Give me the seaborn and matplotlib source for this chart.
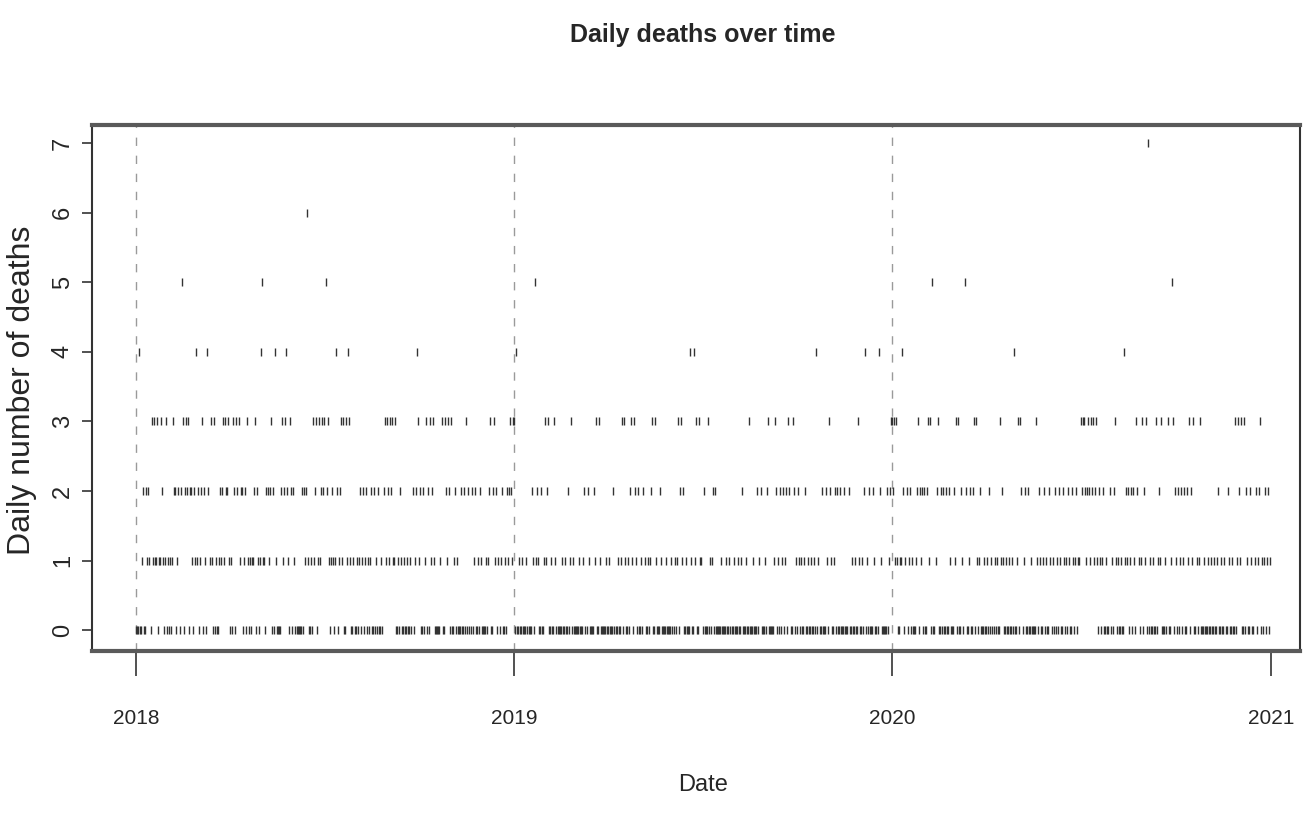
import matplotlib
matplotlib.use('Agg')
import matplotlib.pyplot as plt
import numpy as np
import pandas as pd
import seaborn as sns

# day offsets from 2018-01-01, grouped by the number of deaths
start = pd.Timestamp('2018-01-01')
n_days = 1096

level1_days = [
    6, 11, 13, 16, 18, 19, 22, 23, 26, 28, 31, 33, 35, 40, 54, 57, 59, 62, 67, 69, 71, 73, 77, 80, 82, 85,
    90, 92, 100, 104, 108, 110, 112, 113, 118, 120, 123, 124, 128, 135, 142, 147, 153, 163, 166, 169, 172, 176,
    178, 186, 188, 190, 192, 196, 199, 204, 207, 210, 213, 215, 218, 221, 224, 226, 232, 237, 241, 244, 248,
    249, 253, 256, 259, 262, 265, 269, 273, 279, 285, 288, 294, 300, 307, 310, 326, 330, 333, 338, 340, 347,
    350, 352, 356, 359, 363,
    370, 373, 377, 383, 386, 388, 394, 396, 401, 405, 411, 414, 419, 422, 428, 432, 437, 443, 448, 454, 457,
    465, 468, 472, 475, 479, 483, 488, 491, 494, 496, 502, 507, 512, 517, 520, 522, 527, 531, 536, 540, 545,
    546, 554, 556, 565, 570, 573, 577, 581, 584, 589, 596, 602, 607, 616, 620, 624, 627, 637, 640, 642, 645,
    649, 652, 655, 659, 667, 671, 674, 691, 694, 698, 701, 706, 713, 719, 727,
    733, 735, 738, 739, 743, 746, 749, 753, 758, 766, 772, 786, 791, 798, 804, 812, 814, 819, 822, 826, 829,
    831, 835, 837, 840, 843, 846, 851, 857, 864, 870, 873, 876, 879, 883, 885, 889, 892, 896, 898, 901, 905,
    907, 910,
    911, 917, 921, 925, 928, 931, 933, 937, 942, 946, 948, 951, 955, 957, 960, 964, 968, 970, 974, 979, 982,
    987, 989, 994, 999, 1004, 1008, 1011, 1016, 1020, 1024, 1026, 1031, 1035, 1038, 1041, 1044, 1048, 1051,
    1055, 1058, 1063, 1066, 1073, 1077, 1080, 1083, 1087, 1089, 1092, 1095,
]
level2_days = [
    7, 10, 12, 25, 37, 38, 41, 43, 44, 47, 49, 52, 53, 56, 58, 60, 63, 66, 70, 81, 83, 87, 88, 95, 98, 101,
    102, 105, 114, 117, 126, 127, 129, 132, 140, 143, 146, 150, 152, 160, 162, 164, 173, 179,
    181, 184, 189, 194, 197, 216, 219, 222, 227, 230, 234, 239, 243, 246, 255, 267, 270, 274, 277, 282, 286,
    299, 302, 308, 314, 317, 321, 324, 327, 332, 341, 345, 348, 353, 358, 362,
    360, 382, 387, 391, 397, 417, 433, 436, 442, 461, 477, 482, 485, 490, 497, 506, 525, 528,
    548, 557, 559, 585, 600, 603, 609, 618, 622, 625, 628, 631, 635, 639, 646, 662, 666, 670, 675, 677, 680,
    684, 688, 703, 708, 712, 718, 725, 728,
    731, 741, 744, 747, 754, 757, 759, 761, 764, 773, 777, 779, 782, 785, 790, 797, 801, 805, 808, 815, 824,
    836, 855, 858, 861, 872, 877, 882, 887, 891, 895, 900, 904, 908, 913,
    916, 918, 920, 923, 926, 930, 934, 940, 944, 956, 958, 961, 963, 967, 973, 988, 1003, 1006, 1009, 1012,
    1015, 1019, 1045, 1054, 1065, 1072, 1076, 1081, 1084, 1090, 1093,
]
level3_days = [
    15, 17, 20, 24, 29, 36, 45, 48, 50, 64, 72, 75, 84, 86, 89, 94, 97, 99, 107, 115, 130, 141, 144, 149,
    171, 174, 177, 180,
    182, 185, 198, 200, 203, 206, 240, 242, 245, 247, 250, 272, 280, 284, 287, 295, 298, 301, 304, 319, 342,
    346, 361,
    364, 365, 395, 398, 404, 420, 444, 447, 469, 471, 478, 481, 498, 501, 523, 526, 541,
    544, 552, 592, 610, 617, 630, 634, 669, 697, 729,
    730, 732, 734, 755, 765, 767, 774, 792, 794, 809, 811, 834, 852, 854, 869, 912,
    914, 915, 919, 922, 924, 927, 945, 966, 971, 975, 985, 990, 996, 1001, 1017, 1021, 1027, 1061, 1064,
    1067, 1070, 1085,
]
level4_days = [3, 58, 69, 121, 134, 145, 193, 205, 271, 367, 535, 539, 657, 704, 717, 740, 848, 954]
level5_days = [44, 122, 183, 385, 769, 800, 1000]
level6_days = [165]
level7_days = [977]

years = [2018, 2019, 2020, 2021]
dashed_years = [2018, 2019, 2020]

deaths = np.zeros(n_days, dtype=int)
for level, days in [(1, level1_days), (2, level2_days), (3, level3_days), (4, level4_days),
                    (5, level5_days), (6, level6_days), (7, level7_days)]:
    deaths[days] = level

df = pd.DataFrame({
    'Date': start + pd.to_timedelta(np.arange(n_days), unit='D'),
    'Deaths': deaths,
})

sns.set_style('white')
plain = ['Liberation Sans', 'DejaVu Sans']
plt.rcParams['font.family'] = plain

fig = plt.figure(figsize=(13.16, 8.25), dpi=100)
ax = fig.add_axes([0.0699, 0.2109, 0.918, 0.6376])

for y in dashed_years:
    ax.axvline(pd.Timestamp(f'{y}-01-01'), color='#9a9a9a', lw=1.0, ls=(0, (6, 7)), zorder=0)

sns.scatterplot(data=df, x='Date', y='Deaths', marker='|', s=36, color='#333333',
                linewidth=1.0, ax=ax, legend=False)

ax.set_xlim(start - pd.Timedelta(days=42.5), start + pd.Timedelta(days=1124))
ax.set_ylim(-0.30, 7.26)

ax.set_xticks([pd.Timestamp(f'{y}-01-01') for y in years])
ax.set_xticklabels([str(y) for y in years], fontsize=15)
ax.set_yticks(range(8))
ax.set_yticklabels([str(i) for i in range(8)], fontsize=17, rotation=90, va='center')
ax.tick_params(axis='x', direction='out', length=18, width=1.2, color='#333333', pad=24, bottom=True)
ax.tick_params(axis='y', direction='out', length=7, width=1.2, color='#333333', pad=6, left=True)

ax.set_xlabel('')
ax.set_ylabel('')
for side in ['top', 'bottom']:
    ax.spines[side].set_linewidth(3.0)
    ax.spines[side].set_color('#5a5a5a')
for side in ['left', 'right']:
    ax.spines[side].set_linewidth(1.5)
    ax.spines[side].set_color('#333333')

fig.text(0.534, 0.958, 'Daily deaths over time', ha='center', va='center',
         fontsize=18, fontweight='bold')
fig.text(0.534, 0.048, 'Date', ha='center', va='center', fontsize=17)
fig.text(0.017, 0.527, 'Daily number of deaths', ha='center', va='center', rotation=90,
         fontsize=23)

fig.savefig('out.png', dpi=100)
